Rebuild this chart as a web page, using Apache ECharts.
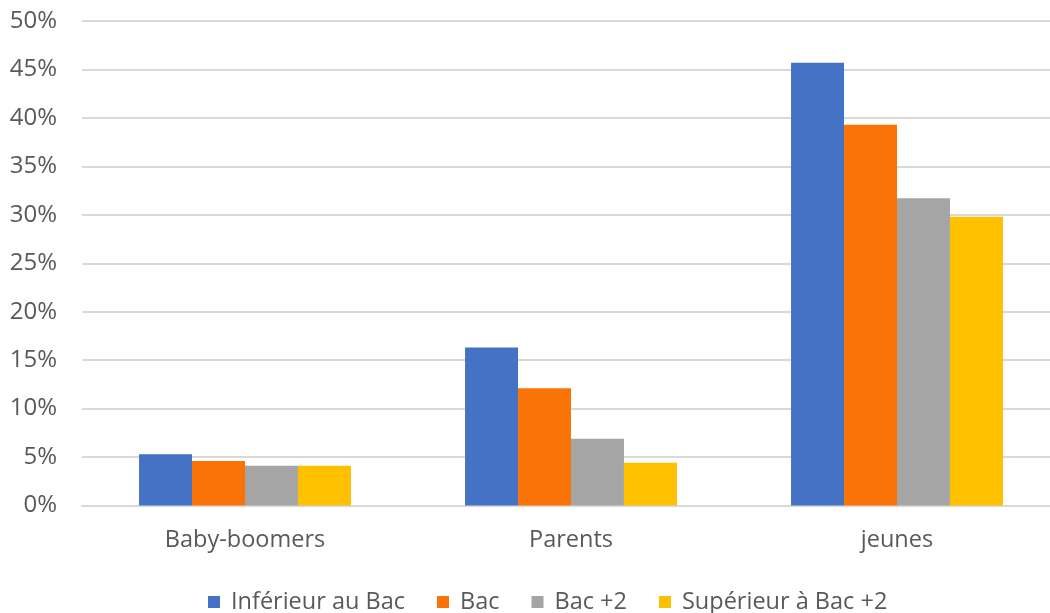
<!DOCTYPE html>
<html>
<head>
<meta charset="utf-8">
<script src="https://cdn.jsdelivr.net/npm/echarts@6/dist/echarts.min.js"></script>
<style>
html,body{margin:0;padding:0;background:#fff;overflow:hidden;}
#c{width:1070px;height:613px;}
</style>
</head>
<body>
<div id="c"></div>
<script>
const categories = ['Baby-boomers', 'Parents', 'jeunes'];
const seriesNames = ['Inférieur au Bac', 'Bac', 'Bac +2', 'Supérieur à Bac +2'];
const inferieurAuBac = [5.3, 16.3, 45.7];
const bac = [4.6, 12.1, 39.3];
const bacPlus2 = [4.1, 6.9, 31.7];
const superieurBacPlus2 = [4.1, 4.4, 29.8];
const yTicks = [0, 5, 10, 15, 20, 25, 30, 35, 40, 45, 50];

const colors = ['#4472C4', '#F97306', '#A5A5A5', '#FFC000'];
const values = [inferieurAuBac, bac, bacPlus2, superieurBacPlus2];
const font = 'Open Sans';

const chart = echarts.init(document.getElementById('c'));
chart.setOption({
  animation: false,
  color: colors,
  grid: {left: 82, right: 10, top: 21, bottom: 107.5, containLabel: false},
  legend: {
    top: 585,
    left: 203,
    itemWidth: 12,
    itemHeight: 12,
    itemGap: 32,
    icon: 'rect',
    textStyle: {color: '#595959', fontSize: 23.5, fontFamily: font, padding: [0, 0, 0, 6]}
  },
  xAxis: {
    type: 'category',
    data: categories,
    axisLine: {show: true, lineStyle: {color: '#D9D9D9', width: 2}},
    axisTick: {show: false},
    axisLabel: {color: '#595959', fontSize: 23.5, fontFamily: font, margin: 23}
  },
  yAxis: {
    type: 'value',
    min: yTicks[0],
    max: yTicks[yTicks.length - 1],
    interval: 5,
    axisLine: {show: false},
    axisTick: {show: false},
    splitLine: {lineStyle: {color: '#D9D9D9', width: 2}},
    axisLabel: {color: '#595959', fontSize: 24, fontFamily: font, margin: 25,
      formatter: v => v + '%'}
  },
  series: seriesNames.map((n, i) => ({
    name: n,
    type: 'bar',
    data: values[i],
    barGap: '0%',
    barCategoryGap: '35%'
  }))
});
</script>
</body>
</html>
